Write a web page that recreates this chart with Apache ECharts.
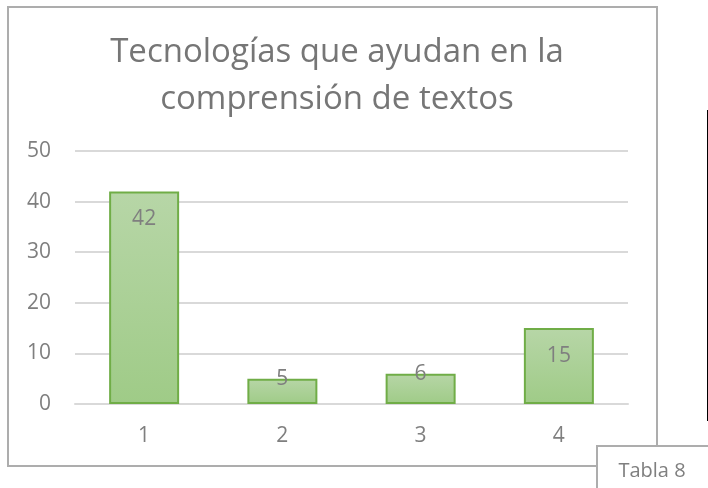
<!DOCTYPE html>
<html>
<head>
<meta charset="utf-8">
<title>Tecnologías que ayudan en la comprensión de textos</title>
<script src="https://cdn.jsdelivr.net/npm/echarts@6/dist/echarts.min.js"></script>
<style>
  html, body { margin: 0; padding: 0; background: #fff; }
  #chart { width: 708px; height: 488px; }
</style>
</head>
<body>
<div id="chart"></div>
<script>
// datos del grafico
var categorias = ['1', '2', '3', '4'];
var valores = [42, 5, 6, 15];
var ticksY = [0, 10, 20, 30, 40, 50];

var gris = '#7f7f7f';
var fuente = 'Open Sans';

var chart = echarts.init(document.getElementById('chart'));

// barras cortas: la etiqueta queda sobre el borde superior
var datos = valores.map(function (v) {
  if (v < 10) {
    return { value: v, label: { position: 'top', distance: -11 } };
  }
  return v;
});

var option = {
  animation: false,
  title: {
    text: 'Tecnologías que ayudan en la\ncomprensión de textos',
    left: 332,
    textAlign: 'center',
    top: 24,
    textStyle: {
      color: '#767676',
      fontFamily: fuente,
      fontWeight: 'normal',
      fontSize: 33,
      lineHeight: 47
    }
  },
  grid: {
    left: 75,
    right: 80,
    top: 151,
    bottom: 84
  },
  xAxis: {
    type: 'category',
    data: categorias,
    axisTick: { show: false },
    axisLine: { lineStyle: { color: '#d9d9d9', width: 2 } },
    axisLabel: { color: gris, fontFamily: fuente, fontSize: 21, margin: 22 }
  },
  yAxis: {
    type: 'value',
    min: ticksY[0],
    max: ticksY[ticksY.length - 1],
    interval: 10,
    axisLine: { show: false },
    axisTick: { show: false },
    axisLabel: { color: gris, fontFamily: fuente, fontSize: 21, margin: 24 },
    splitLine: { lineStyle: { color: '#d9d9d9', width: 2 } }
  },
  series: [{
    type: 'bar',
    data: datos,
    barWidth: 70,
    itemStyle: {
      color: new echarts.graphic.LinearGradient(0, 0, 0, 1, [
        { offset: 0, color: '#b7d6a7' },
        { offset: 1, color: '#9fcb87' }
      ]),
      borderColor: '#70ad47',
      borderWidth: 2
    },
    label: {
      show: true,
      position: 'insideTop',
      distance: 17,
      color: gris,
      fontFamily: fuente,
      fontSize: 21
    }
  }],
  graphic: [
    {
      type: 'rect',
      shape: { x: 8, y: 7, width: 649, height: 459 },
      style: { fill: null, stroke: '#adadad', lineWidth: 2 },
      z: 100
    },
    {
      type: 'rect',
      shape: { x: 597, y: 446, width: 140, height: 60 },
      style: { fill: '#fff', stroke: '#adadad', lineWidth: 2 },
      z: 101
    },
    {
      type: 'text',
      x: 652,
      y: 471,
      style: {
        text: 'Tabla 8',
        fill: gris,
        font: '20px "Open Sans"',
        align: 'center',
        verticalAlign: 'middle'
      },
      z: 102
    },
    {
      type: 'line',
      shape: { x1: 707.5, y1: 110, x2: 707.5, y2: 421 },
      style: { stroke: '#000', lineWidth: 1 },
      z: 100
    }
  ]
};

chart.setOption(option);
</script>
</body>
</html>
